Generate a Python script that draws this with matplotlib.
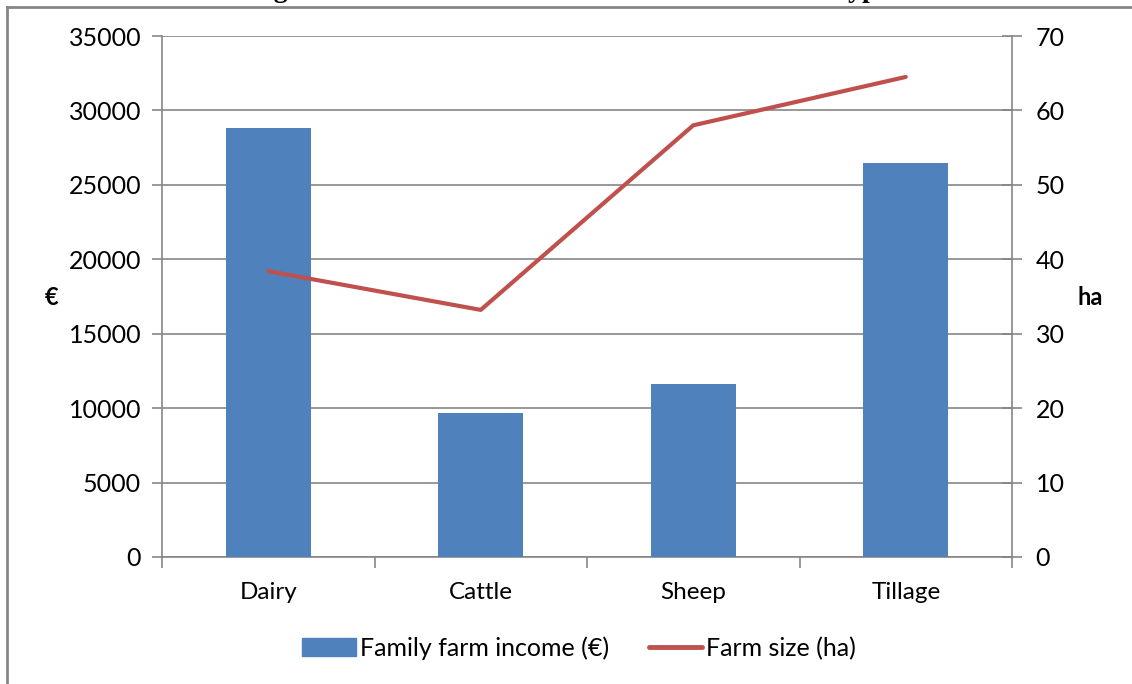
import matplotlib.pyplot as plt
import numpy as np
from matplotlib.lines import Line2D
from matplotlib.patches import Patch

plt.rcParams['font.family'] = ['Lato', 'DejaVu Sans']

# data
categories = ['Dairy', 'Cattle', 'Sheep', 'Tillage']
income = [28850, 9700, 11650, 26500]      # family farm income, euro
farm_size = [38.4, 33.2, 58.0, 64.5]      # hectares

bar_color = '#4F81BD'
line_color = '#C0504D'
grid_color = '#868686'

fig = plt.figure(figsize=(11.32, 6.84), dpi=100)
ax = fig.add_axes([162 / 1132, 1 - 557 / 684, 850 / 1132, 521 / 684])
ax2 = ax.twinx()

x = np.arange(len(categories))
ax.bar(x, income, width=0.4, color=bar_color, zorder=3)
ax2.plot(x, farm_size, color=line_color, linewidth=3, solid_capstyle='round', zorder=4)

ax.set_xlim(-0.5, 3.5)
ax.set_ylim(0, 35000)
ax.set_yticks(np.arange(0, 35001, 5000))
ax2.set_ylim(0, 70)
ax2.set_yticks(np.arange(0, 71, 10))

ax.yaxis.grid(True, color=grid_color, linewidth=1.2, zorder=0)
ax.set_axisbelow(True)

ax.set_xticks(x)
ax.set_xticklabels(categories)
ax.set_xticks(np.arange(-0.5, 3.6, 1), minor=True)
ax.tick_params(axis='x', which='major', length=0, labelsize=17.5, pad=18)
ax.tick_params(axis='x', which='minor', length=8, color=grid_color, width=1.2)
ax.tick_params(axis='y', length=7, color=grid_color, width=1.2, labelsize=18, pad=8)
ax2.tick_params(axis='y', direction='inout', length=14, color=grid_color, width=1.2,
                labelsize=18, pad=10)

for a in (ax, ax2):
    for s in a.spines.values():
        s.set_visible(False)
ax.spines['left'].set_visible(True)
ax.spines['left'].set_color(grid_color)
ax.spines['left'].set_linewidth(1.2)
ax.spines['bottom'].set_visible(True)
ax.spines['bottom'].set_color(grid_color)
ax.spines['bottom'].set_linewidth(1.2)
ax2.spines['right'].set_visible(True)
ax2.spines['right'].set_color(grid_color)
ax2.spines['right'].set_linewidth(1.2)

fig.text(52 / 1132, 1 - 298 / 684, '€', fontsize=17, fontweight='bold',
         ha='center', va='center')
fig.text(1090 / 1132, 1 - 298 / 684, 'ha', fontsize=17, fontweight='bold',
         ha='center', va='center')

handles = [Patch(color=bar_color), Line2D([0], [0], color=line_color, linewidth=3.5,
                                          solid_capstyle='round')]
fig.legend(handles, ['Family farm income (€)', 'Farm size (ha)'],
           loc='center', bbox_to_anchor=(579 / 1132, 1 - 648 / 684), ncol=2,
           frameon=False, fontsize=18, handlelength=2.15, handletextpad=0.15,
           columnspacing=1.6)

# outer frame of the chart box (only top and left visible in the crop)
fig.add_artist(Line2D([7 / 1132, 7 / 1132], [0, 1 - 6.5 / 684],
                      transform=fig.transFigure, color=grid_color, linewidth=2))
fig.add_artist(Line2D([7 / 1132, 1], [1 - 6.5 / 684, 1 - 6.5 / 684],
                      transform=fig.transFigure, color=grid_color, linewidth=2))

# caption above, cut off by the top edge as in the reference
fig.text(575 / 1132, 1 + 3 / 684, 'Figure 4: Farm size and total farm income across types',
         family='Liberation Serif', fontweight='bold', fontsize=20,
         ha='center', va='baseline')

fig.savefig('out.png', dpi=100)
